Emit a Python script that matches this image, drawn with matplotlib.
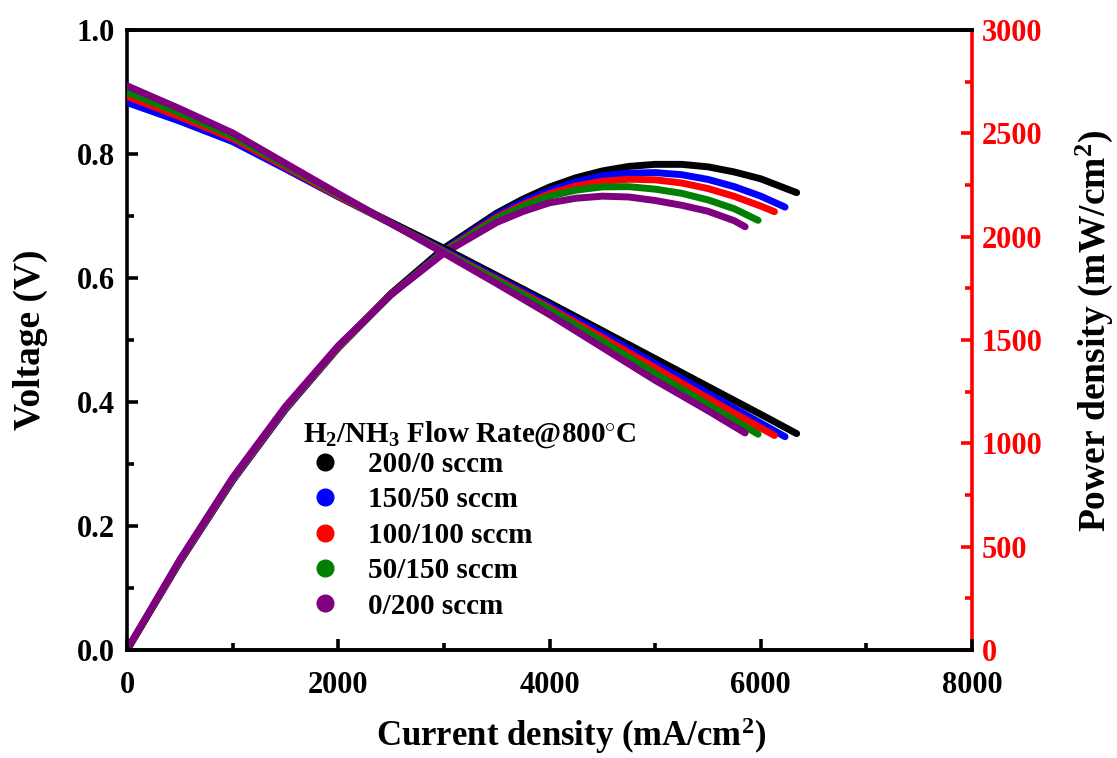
import matplotlib
matplotlib.use("Agg")
import matplotlib.pyplot as plt
from matplotlib.lines import Line2D
from matplotlib.ticker import MultipleLocator

plt.rcParams['font.family'] = ['Liberation Serif', 'DejaVu Serif']
plt.rcParams['font.weight'] = 'bold'
plt.rcParams['mathtext.fontset'] = 'custom'
plt.rcParams['mathtext.rm'] = 'Liberation Serif:bold'
plt.rcParams['mathtext.it'] = 'Liberation Serif:italic:bold'
plt.rcParams['mathtext.bf'] = 'Liberation Serif:bold'
plt.rcParams['mathtext.default'] = 'rm'

# ---------------- data ----------------
labels = ["200/0 sccm", "150/50 sccm", "100/100 sccm", "50/150 sccm", "0/200 sccm"]
colors = ["#000000", "#0000ff", "#ff0000", "#008000", "#800080"]
legend_title = "H$_2$/NH$_3$ Flow Rate@800$^{\\circ}$C"

# voltage curves (current density in mA/cm2, voltage in V)
v_current_black = [0, 500, 1000, 1500, 2000, 2500, 3000, 3500, 4000, 4500, 5000, 5500, 6000, 6340]
voltage_black = [0.885, 0.855, 0.822, 0.777, 0.732, 0.690, 0.648, 0.604, 0.560, 0.515, 0.470, 0.425, 0.380, 0.349]
v_current_blue = [0, 500, 1000, 1500, 2000, 2500, 3000, 3500, 4000, 4500, 5000, 5500, 6000, 6230]
voltage_blue = [0.883, 0.853, 0.820, 0.776, 0.731, 0.688, 0.645, 0.601, 0.556, 0.510, 0.462, 0.414, 0.366, 0.344]
v_current_red = [0, 500, 1000, 1500, 2000, 2500, 3000, 3500, 4000, 4500, 5000, 5500, 6000, 6130]
voltage_red = [0.893, 0.860, 0.825, 0.779, 0.732, 0.688, 0.643, 0.598, 0.552, 0.504, 0.455, 0.406, 0.358, 0.346]
v_current_green = [0, 500, 1000, 1500, 2000, 2500, 3000, 3500, 4000, 4500, 5000, 5500, 5975]
voltage_green = [0.900, 0.866, 0.829, 0.782, 0.734, 0.688, 0.642, 0.596, 0.549, 0.498, 0.446, 0.396, 0.348]
v_current_purple = [0, 500, 1000, 1500, 2000, 2500, 3000, 3500, 4000, 4500, 5000, 5500, 5852]
voltage_purple = [0.910, 0.873, 0.834, 0.785, 0.736, 0.688, 0.640, 0.591, 0.541, 0.488, 0.435, 0.386, 0.350]

# power density curves (current density in mA/cm2, power in mW/cm2)
p_current_black = [0, 500, 1000, 1500, 2000, 2500, 3000, 3500, 3750, 4000, 4250, 4500, 4750, 5000, 5250, 5500, 5750, 6000, 6340]
power_black = [0, 428, 822, 1166, 1464, 1725, 1944, 2114, 2182, 2240, 2285, 2318, 2340, 2350, 2350, 2338, 2313, 2280, 2213]
p_current_blue = [0, 500, 1000, 1500, 2000, 2500, 3000, 3500, 3750, 4000, 4250, 4500, 4750, 5000, 5250, 5500, 5750, 6000, 6230]
power_blue = [0, 427, 820, 1164, 1462, 1720, 1935, 2104, 2169, 2224, 2265, 2295, 2307, 2310, 2300, 2277, 2242, 2196, 2143]
p_current_red = [0, 500, 1000, 1500, 2000, 2500, 3000, 3500, 3750, 4000, 4250, 4500, 4750, 5000, 5250, 5500, 5750, 6000, 6130]
power_red = [0, 430, 825, 1169, 1464, 1720, 1929, 2093, 2155, 2208, 2245, 2268, 2278, 2275, 2260, 2233, 2195, 2148, 2121]
p_current_green = [0, 500, 1000, 1500, 2000, 2500, 3000, 3500, 3750, 4000, 4250, 4500, 4750, 5000, 5250, 5500, 5750, 5975]
power_green = [0, 433, 829, 1173, 1468, 1720, 1926, 2086, 2146, 2196, 2225, 2241, 2242, 2230, 2210, 2178, 2135, 2079]
p_current_purple = [0, 500, 1000, 1500, 2000, 2500, 3000, 3500, 3750, 4000, 4250, 4500, 4750, 5000, 5250, 5500, 5750, 5852]
power_purple = [0, 437, 834, 1178, 1472, 1720, 1920, 2069, 2122, 2164, 2186, 2196, 2192, 2175, 2152, 2123, 2077, 2048]

v_currents = [v_current_black, v_current_blue, v_current_red, v_current_green, v_current_purple]
voltages = [voltage_black, voltage_blue, voltage_red, voltage_green, voltage_purple]
p_currents = [p_current_black, p_current_blue, p_current_red, p_current_green, p_current_purple]
powers = [power_black, power_blue, power_red, power_green, power_purple]

x_ticks = [0, 2000, 4000, 6000, 8000]
v_ticks = [0.0, 0.2, 0.4, 0.6, 0.8, 1.0]
p_ticks = [0, 500, 1000, 1500, 2000, 2500, 3000]

# ---------------- figure ----------------
fig = plt.figure(figsize=(11.17, 7.58), dpi=100)
ax = fig.add_axes([0.1137, 0.1425, 0.7565, 0.8179])
ax2 = ax.twinx()

for Iv, V, Ip, P, c in zip(v_currents, voltages, p_currents, powers, colors):
    ax.plot(Iv, V, color=c, lw=5, solid_capstyle='round', solid_joinstyle='round', zorder=3)
    ax2.plot(Ip, P, color=c, lw=5, solid_capstyle='round', solid_joinstyle='round', zorder=3)

ax.set_xlim(0, 8000)
ax.set_ylim(0, 1.0)
ax2.set_ylim(0, 3000)

ax.set_xticks(x_ticks)
ax.set_xticklabels([str(t) for t in x_ticks])
ax.set_yticks(v_ticks)
ax.set_yticklabels([f"{t:.1f}" for t in v_ticks])
ax2.set_yticks(p_ticks)
ax2.set_yticklabels([str(t) for t in p_ticks])
ax.xaxis.set_minor_locator(MultipleLocator(1000))
ax.yaxis.set_minor_locator(MultipleLocator(0.1))
ax2.yaxis.set_minor_locator(MultipleLocator(250))

for s in ['left', 'bottom', 'top']:
    ax.spines[s].set_linewidth(2.6)
    ax2.spines[s].set_linewidth(2.6)
ax.spines['right'].set_visible(False)
ax2.spines['right'].set_color('#ff0000')
ax2.spines['right'].set_linewidth(2.6)
ax2.spines['left'].set_visible(False)

ax.tick_params(axis='x', which='major', direction='in', length=8, width=2.6,
               labelsize=22, pad=15, top=False)
ax.tick_params(axis='y', which='major', direction='in', length=8, width=2.6,
               labelsize=22, pad=9, right=False)
ax.tick_params(axis='both', which='minor', direction='in', length=5, width=2.6,
               top=False, right=False)
ax2.tick_params(axis='y', which='major', direction='in', length=8, width=2.6,
                labelsize=22, colors='#ff0000', pad=7)
ax2.tick_params(axis='y', which='minor', direction='in', length=5, width=2.6,
                colors='#ff0000')
for lab in ax.get_xticklabels() + ax.get_yticklabels() + ax2.get_yticklabels():
    lab.set_fontweight('bold')

ax.set_xlabel("Current density (mA/cm$^2$)", fontsize=25, fontweight='bold', labelpad=11)
ax.xaxis.label.set_x(0.525)
ax.set_ylabel("Voltage (V)", fontsize=27, fontweight='bold', labelpad=20)
ax2.set_ylabel("Power density (mW/cm$^2$)", fontsize=27, fontweight='bold', labelpad=22)
ax2.yaxis.label.set_y(0.515)

# legend title as text, legend entries below it
ax.text(0.2083, 0.347, legend_title, transform=ax.transAxes, fontsize=21,
        fontweight='bold', ha='left', va='center', zorder=6)
handles = [Line2D([], [], ls='none', marker='o', ms=12, color=c) for c in colors]
leg = ax.legend(handles, labels, loc='center left', bbox_to_anchor=(0.2201, 0.185),
                frameon=False, prop={'size': 21, 'weight': 'bold'},
                handlelength=0.8, handletextpad=1.1, labelspacing=0.29,
                borderaxespad=0, borderpad=0)
leg.set_zorder(5)

ax.set_zorder(ax2.get_zorder() + 1)
ax.patch.set_visible(False)
fig.savefig("out.png", dpi=100)
